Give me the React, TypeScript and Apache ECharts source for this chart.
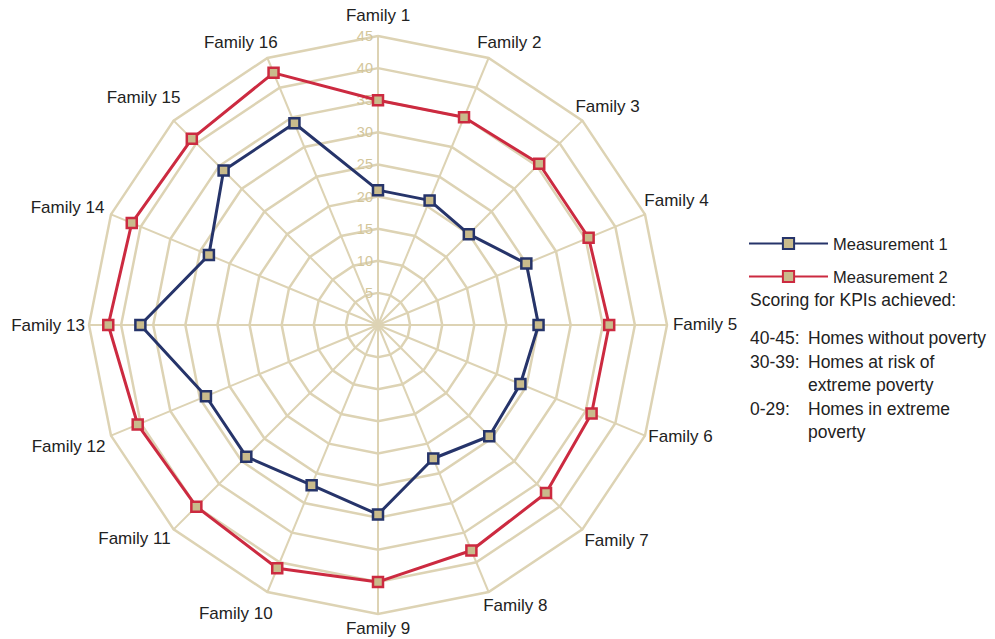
import React, { useEffect, useRef } from 'react';
import * as echarts from 'echarts';

const families = [
  'Family 1', 'Family 2', 'Family 3', 'Family 4', 'Family 5', 'Family 6', 'Family 7', 'Family 8',
  'Family 9', 'Family 10', 'Family 11', 'Family 12', 'Family 13', 'Family 14', 'Family 15', 'Family 16',
];
const measurement1 = [21, 21, 20, 25, 25, 24, 24.5, 22.5, 29.5, 27, 29, 29, 37, 28.5, 34, 34];
const measurement2 = [35, 35, 35.5, 35.5, 36, 36, 37, 38, 40, 41, 40, 40.5, 42, 41.5, 41, 42.5];
const seriesNames = ['Measurement 1', 'Measurement 2'];
const axisMax = 45;
const axisSplits = 9;
const scoringTitle = 'Scoring for KPIs achieved:';
const scoringRanges = ['40-45:', '30-39:', '0-29:'];
const scoringTexts = [
  ['Homes without poverty'],
  ['Homes at risk of', 'extreme poverty'],
  ['Homes in extreme', 'poverty'],
];

// layout only: nudge of each family name (px) from its centred radial anchor
const nameNudge: [number, number][] = [
  [0, -1], [13, 3], [11, 0], [13, -6], [18, -1], [17, -7], [20, -3], [19, -5],
  [0, -6], [-24, 3], [-25, -5], [-24, 3], [-21, 0], [-25, 1], [-16, -9], [-19, 3],
];

const FONT = '"Liberation Sans", Arial, Helvetica, sans-serif';
const GRID = '#ddd3b4';
const TICK = '#d3c69b';
const FILL = '#c9bb8c';
const NAVY = '#26346a';
const RED = '#cc2a40';
const TEXT = '#222222';

export default function App() {
  const ref = useRef<HTMLDivElement>(null);

  useEffect(() => {
    document.body.style.margin = '0';
    if (!ref.current) return;
    const chart = echarts.init(ref.current, null, { renderer: 'svg' });

    // ECharts radar runs counter-clockwise; reorder so Family 2 sits clockwise of Family 1
    const order = families.map((_, i) => (families.length - i) % families.length);
    const indicators = order.map((k, i) => {
      const ind: any = { name: families[k], min: 0, max: axisMax };
      if (i === 0) ind.axisLabel = { show: true };
      return ind;
    });
    const m1 = order.map((k) => measurement1[k]);
    const m2 = order.map((k) => measurement2[k]);

    const rich: any = {};
    families.forEach((_, i) => {
      const [dx, dy] = nameNudge[i];
      rich['n' + i] = {
        fontSize: 17,
        fontFamily: FONT,
        color: TEXT,
        padding: [Math.max(0, 2 * dy), Math.max(0, -2 * dx), Math.max(0, -2 * dy), Math.max(0, 2 * dx)],
      };
    });

    const graphics: any[] = [];
    const noteX = 750;
    const colX = 808;
    graphics.push({
      type: 'text', x: noteX, y: 300,
      style: { text: scoringTitle, fontSize: 17.5, fill: TEXT, fontFamily: FONT, verticalAlign: 'middle' },
    });
    let y = 338;
    scoringRanges.forEach((r, i) => {
      graphics.push({
        type: 'text', x: noteX, y,
        style: { text: r, fontSize: 17.5, fill: TEXT, fontFamily: FONT, verticalAlign: 'middle' },
      });
      scoringTexts[i].forEach((t) => {
        graphics.push({
          type: 'text', x: colX, y,
          style: { text: t, fontSize: 17.5, fill: TEXT, fontFamily: FONT, verticalAlign: 'middle' },
        });
        y += 23.5;
      });
    });

    const option: any = {
      animation: false,
      backgroundColor: '#ffffff',
      textStyle: { fontFamily: FONT },
      legend: {
        orient: 'vertical',
        left: 748,
        top: 235,
        padding: 0,
        itemWidth: 79,
        itemHeight: 14,
        itemGap: 16,
        textStyle: { fontSize: 16.5, color: TEXT, fontFamily: FONT },
        data: seriesNames,
      },
      grid: { show: false, left: 0, top: 0, width: 1, height: 1 },
      xAxis: { show: false, type: 'value' },
      yAxis: { show: false, type: 'value' },
      radar: {
        center: [378, 325],
        radius: 289,
        startAngle: 90,
        shape: 'polygon',
        splitNumber: axisSplits,
        indicator: indicators,
        axisName: {
          color: TEXT,
          fontSize: 17,
          fontFamily: FONT,
          align: 'center',
          verticalAlign: 'middle',
          formatter: (name: string) => `{n${families.indexOf(name)}|${name}}`,
          rich,
        },
        nameGap: 20,
        axisLine: { lineStyle: { color: GRID, width: 2 } },
        splitLine: { lineStyle: { color: GRID, width: 2.5 } },
        splitArea: { show: false },
        axisTick: { show: false },
        axisLabel: {
          show: false,
          color: TICK,
          fontSize: 14.5,
          fontFamily: FONT,
          margin: 5,
          align: 'right',
          verticalAlign: 'middle',
          padding: [0, 0, 10, 0],
          formatter: (v: number) => (v === 0 ? '' : String(v)),
        },
      },
      series: [
        {
          type: 'radar',
          symbol: 'rect',
          symbolSize: 10,
          data: [
            {
              name: seriesNames[0],
              value: m1,
              lineStyle: { color: NAVY, width: 3 },
              itemStyle: { color: FILL, borderColor: NAVY, borderWidth: 2.5 },
            },
            {
              name: seriesNames[1],
              value: m2,
              lineStyle: { color: RED, width: 3 },
              itemStyle: { color: FILL, borderColor: RED, borderWidth: 2.5 },
            },
          ],
        },
        // legend-only line series (carry the line + square legend icon)
        {
          type: 'line', name: seriesNames[0], data: [], symbol: 'rect',
          lineStyle: { color: NAVY, width: 3 },
          itemStyle: { color: FILL, borderColor: NAVY, borderWidth: 2.5 },
        },
        {
          type: 'line', name: seriesNames[1], data: [], symbol: 'rect',
          lineStyle: { color: RED, width: 3 },
          itemStyle: { color: FILL, borderColor: RED, borderWidth: 2.5 },
        },
      ],
      graphic: graphics,
    };
    chart.setOption(option);
    return () => chart.dispose();
  }, []);

  return <div ref={ref} style={{ width: 995, height: 639 }} />;
}
